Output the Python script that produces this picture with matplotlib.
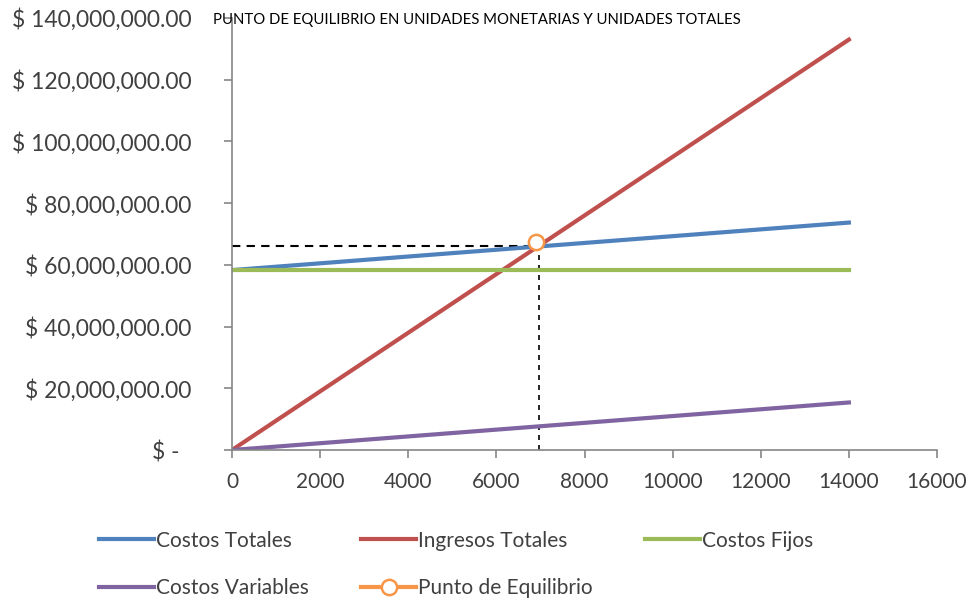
import matplotlib.pyplot as plt
from matplotlib.ticker import FuncFormatter

plt.rcParams['font.family'] = ['Lato', 'DejaVu Sans']

unidades = [0, 14000]
costos_totales = [58300000, 73700000]
ingresos_totales = [0, 133000000]
costos_fijos = [58300000, 58300000]
costos_variables = [0, 15400000]

# punto de equilibrio
pe_unidades = 6900
pe_monto = 67300000
guia_unidades = 6960
guia_monto = 66000000

y_ticks = [0, 20000000, 40000000, 60000000, 80000000, 100000000, 120000000, 140000000]
x_ticks = [0, 2000, 4000, 6000, 8000, 10000, 12000, 14000, 16000]

texto = "#404040"


def pesos(v, pos):
    if v == 0:
        return "$ -  "
    return "$ {:,.2f}".format(v)


fig = plt.figure(figsize=(9.71, 6.02), dpi=100)
ax = fig.add_axes([232 / 971, 1 - 450 / 602, 705 / 971, 432 / 602])

ax.plot([0, guia_unidades], [guia_monto, guia_monto], color="black", lw=1.5, ls=(0, (4, 3)), zorder=1)
ax.plot([guia_unidades, guia_unidades], [0, guia_monto], color="black", lw=1.2, ls=(0, (3, 3)), zorder=1)

l1, = ax.plot(unidades, costos_totales, color="#4F81BD", lw=3, label="Costos Totales")
l2, = ax.plot(unidades, ingresos_totales, color="#C0504D", lw=3, label="Ingresos Totales")
l3, = ax.plot(unidades, costos_fijos, color="#9BBB59", lw=3, label="Costos Fijos")
l4, = ax.plot(unidades, costos_variables, color="#8064A2", lw=3, label="Costos Variables")
l5, = ax.plot([pe_unidades], [pe_monto], color="#F79646", lw=3, marker="o", ms=11,
              mfc="white", mec="#F79646", mew=1.8, label="Punto de Equilibrio", zorder=5)

ax.set_xlim(0, 16000)
ax.set_ylim(0, 140000000)
ax.set_xticks(x_ticks)
ax.set_yticks(y_ticks)
ax.yaxis.set_major_formatter(FuncFormatter(pesos))
for s in ["top", "right"]:
    ax.spines[s].set_visible(False)
for s in ["left", "bottom"]:
    ax.spines[s].set_color("#868686")
    ax.spines[s].set_linewidth(1.2)
ax.tick_params(axis="both", colors="#868686", labelcolor=texto, length=6, width=1.2)
ax.tick_params(axis="x", pad=10, labelsize=15)
ax.tick_params(axis="y", pad=23, labelsize=16.5)

fig.text(213 / 971, 1 - 20 / 602, "PUNTO DE EQUILIBRIO EN UNIDADES MONETARIAS Y UNIDADES TOTALES",
         fontsize=10.7, va="center", ha="left", color="black")

fig.legend(handles=[l1, l4, l2, l5, l3], ncol=3, loc="upper left", bbox_to_anchor=(80 / 971, 1 - 512 / 602),
           frameon=False, fontsize=15, labelcolor=texto, handlelength=2.65, handletextpad=0.1,
           columnspacing=2.5, labelspacing=1.3)

fig.savefig("out.png", dpi=100)
